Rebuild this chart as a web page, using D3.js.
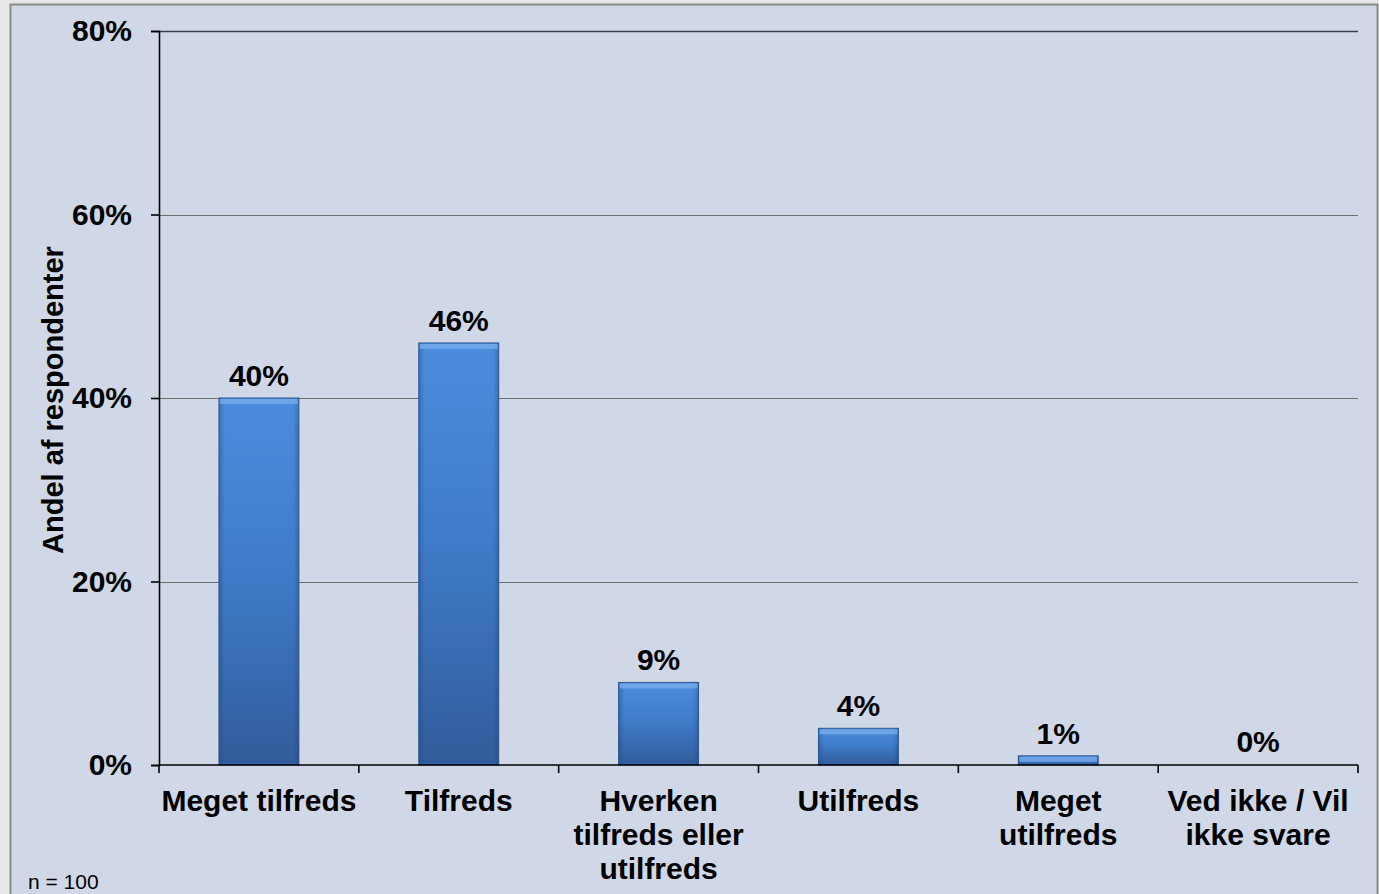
<!DOCTYPE html>
<html>
<head>
<meta charset="utf-8">
<script src="https://cdn.jsdelivr.net/npm/d3@7"></script>
<style>
  html, body { margin: 0; padding: 0; background: #ffffff; }
  svg { display: block; font-family: Arial, "Liberation Sans", sans-serif; }
</style>
</head>
<body>
<svg id="chart" width="1379" height="894"></svg>
<script>
// ---- data ----
const categories = [
  "Meget tilfreds",
  "Tilfreds",
  "Hverken\ntilfreds eller\nutilfreds",
  "Utilfreds",
  "Meget\nutilfreds",
  "Ved ikke / Vil\nikke svare"
];
const values = [40, 46, 9, 4, 1, 0];
const yTicks = [0, 20, 40, 60, 80];
const yTitle = "Andel af respondenter";
const footnote = "n = 100";

// ---- layout ----
const W = 1379, H = 894;
const margin = { left: 159, right: 21, top: 31, bottom: 129 };
const svg = d3.select("#chart");
const FS = 30;

const defs = svg.append("defs");
const grad = defs.append("linearGradient").attr("id", "barGrad")
  .attr("x1", 0).attr("y1", 0).attr("x2", 0).attr("y2", 1);
grad.append("stop").attr("offset", "0%").attr("stop-color", "#4A8CDC");
grad.append("stop").attr("offset", "45%").attr("stop-color", "#3F7DCB");
grad.append("stop").attr("offset", "100%").attr("stop-color", "#325C9B");
const sideGrad = defs.append("linearGradient").attr("id", "sideGrad")
  .attr("x1", 0).attr("y1", 0).attr("x2", 1).attr("y2", 0);
sideGrad.append("stop").attr("offset", "0%").attr("stop-color", "#1f3f70").attr("stop-opacity", 0.35);
sideGrad.append("stop").attr("offset", "7%").attr("stop-color", "#1f3f70").attr("stop-opacity", 0);
sideGrad.append("stop").attr("offset", "93%").attr("stop-color", "#1f3f70").attr("stop-opacity", 0);
sideGrad.append("stop").attr("offset", "100%").attr("stop-color", "#1f3f70").attr("stop-opacity", 0.35);

// outer background & frame
svg.append("rect").attr("x", 0).attr("y", 0).attr("width", W).attr("height", H).attr("fill", "#e8e8e8");
svg.append("rect").attr("x", 10.5).attr("y", 4.5).attr("width", W - 12).attr("height", H)
  .attr("fill", "#D0D8E7").attr("stroke", "#8a8a8a").attr("stroke-width", 2);

const x = d3.scaleBand().domain(categories)
  .range([margin.left, W - margin.right])
  .paddingInner(0.6).paddingOuter(0.3);
const y = d3.scaleLinear().domain([0, 80]).range([H - margin.bottom, margin.top]);

// gridlines
svg.append("g").selectAll("line").data(yTicks.filter(d => d > 0)).join("line")
  .attr("x1", margin.left).attr("x2", W - margin.right)
  .attr("y1", d => Math.round(y(d)) + 0.5).attr("y2", d => Math.round(y(d)) + 0.5)
  .attr("stroke", d => d === 80 ? "#3a3f4a" : "#6e6e6e")
  .attr("stroke-width", d => d === 80 ? 1.6 : 1);

// bars
const bars = svg.append("g");
values.forEach((v, i) => {
  const c = categories[i];
  const bx = x(c), bw = x.bandwidth();
  const by = y(v), bh = y(0) - y(v);
  if (bh <= 0) return;
  bars.append("rect").attr("x", bx).attr("y", by).attr("width", bw).attr("height", bh)
    .attr("fill", "url(#barGrad)").attr("stroke", "#2d5893").attr("stroke-width", 1);
  bars.append("rect").attr("x", bx).attr("y", by).attr("width", bw).attr("height", bh)
    .attr("fill", "url(#sideGrad)");
  bars.append("rect").attr("x", bx + 1).attr("y", by + 1).attr("width", bw - 2).attr("height", Math.min(5, bh - 1))
    .attr("fill", "#7FB1EE").attr("opacity", 0.7);
});

// value labels
svg.append("g").selectAll("text").data(values).join("text")
  .attr("x", (d, i) => x(categories[i]) + x.bandwidth() / 2)
  .attr("y", d => y(d) - (d === 0 ? 13 : 12))
  .attr("text-anchor", "middle")
  .attr("font-size", FS).attr("font-weight", "bold").attr("fill", "#000")
  .text(d => d + "%");

// y axis
const yAxis = d3.axisLeft(y).tickValues(yTicks).tickSize(8).tickPadding(19)
  .tickFormat(d => d + "%");
const gy = svg.append("g").attr("transform", `translate(${margin.left},0)`).call(yAxis);
gy.select(".domain").attr("stroke", "#000").attr("stroke-width", 1.6);
gy.selectAll(".tick line").attr("stroke", "#000").attr("stroke-width", 1.6);
gy.selectAll(".tick text").attr("font-size", FS).attr("font-weight", "bold").attr("fill", "#000")
  .attr("font-family", "Arial, 'Liberation Sans', sans-serif");

// x axis baseline & ticks at band boundaries
const x0 = margin.left, x1 = W - margin.right;
const boundaries = d3.range(categories.length + 1).map(i => x0 + i * (x1 - x0) / categories.length);
svg.append("line").attr("x1", x0).attr("x2", x1).attr("y1", y(0)).attr("y2", y(0))
  .attr("stroke", "#000").attr("stroke-width", 1.6);
svg.append("g").selectAll("line").data(boundaries).join("line")
  .attr("x1", d => d).attr("x2", d => d).attr("y1", y(0)).attr("y2", y(0) + 8)
  .attr("stroke", "#000").attr("stroke-width", 1.6);

// category labels
const catG = svg.append("g");
categories.forEach(c => {
  const lines = c.split("\n");
  const t = catG.append("text")
    .attr("x", x(c) + x.bandwidth() / 2).attr("y", y(0) + 46)
    .attr("text-anchor", "middle").attr("font-size", FS).attr("font-weight", "bold").attr("fill", "#000");
  lines.forEach((ln, k) => {
    t.append("tspan").attr("x", x(c) + x.bandwidth() / 2).attr("dy", k === 0 ? 0 : 34).text(ln);
  });
});

// y title
svg.append("text")
  .attr("transform", `translate(63,${(y(0) + y(80)) / 2 + 2}) rotate(-90)`)
  .attr("text-anchor", "middle").attr("font-size", 29).attr("font-weight", "bold").attr("fill", "#000")
  .text(yTitle);

// footnote
svg.append("text").attr("x", 28).attr("y", 889).attr("font-size", 21).attr("fill", "#000").text(footnote);
</script>
</body>
</html>
